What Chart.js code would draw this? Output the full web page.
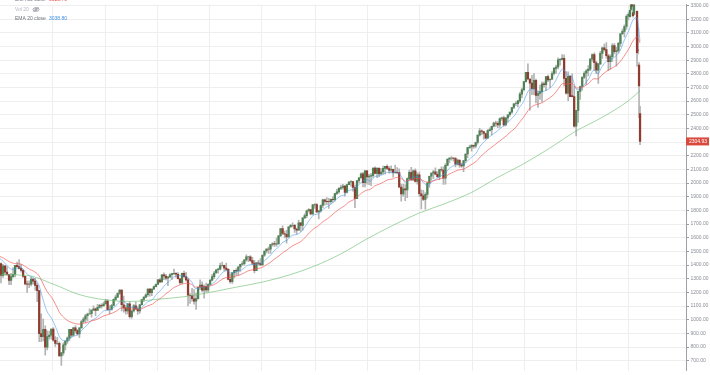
<!DOCTYPE html>
<html>
<head>
<meta charset="utf-8">
<script src="https://cdn.jsdelivr.net/npm/chart.js@4.4.1/dist/chart.umd.min.js"></script>
<style>
  html, body { margin: 0; padding: 0; background: #fff; }
  #wrap { width: 710px; height: 375px; }
</style>
</head>
<body>
<div id="wrap"><canvas id="myChart" width="710" height="375"></canvas></div>
<script>
// Weekly index, Jan 2008 - Mar 2020.
// 2008-2019 are kept as two-week candles, 2020 as single weeks.
const opens = [
  1411,1325,1395,1349,1331,1288,1316,1333,1398,1389,1376,1361,1318,1262,1261,1260,1298,1283,1252,1213,899,877,930,800,876,888,
  931,850,826,827,735,757,816,843,866,929,887,940,921,896,940,987,1005,1029,1042,1044,1071,1080,1069,1091,1106,1102,
  1115,1136,1073,1075,1104,1149,1166,1194,1217,1110,1087,1064,1117,1022,1064,1101,1079,1065,1110,1148,1165,1183,1225,1199,1225,1243,
  1258,1293,1276,1329,1320,1304,1314,1329,1338,1340,1333,1300,1271,1339,1316,1292,1179,1177,1154,1136,1155,1238,1253,1216,1244,1219,
  1258,1289,1316,1342,1366,1371,1397,1398,1378,1369,1295,1278,1343,1362,1357,1386,1406,1411,1438,1460,1461,1433,1414,1360,1416,1413,
  1402,1472,1503,1518,1516,1551,1557,1553,1555,1614,1667,1631,1626,1606,1680,1690,1691,1664,1655,1710,1690,1745,1762,1798,1806,1775,
  1841,1842,1790,1797,1836,1878,1866,1865,1864,1882,1878,1924,1936,1961,1968,1979,1931,1989,2008,2011,1968,1887,2018,2039,2068,2003,
  2089,2045,2051,2055,2110,2071,2108,2067,2081,2108,2122,2107,2094,2101,2076,2079,2077,1971,1921,1958,1951,2033,2079,2023,2090,2012,
  2061,1922,1907,1880,1918,2000,2050,2073,2082,2065,2047,2099,2096,2037,2130,2175,2183,2184,2180,2139,2168,2133,2126,2164,2213,2260,
  2264,2277,2271,2297,2351,2383,2378,2363,2329,2384,2391,2416,2439,2438,2425,2473,2477,2426,2477,2500,2519,2553,2581,2582,2602,2651,
  2683,2743,2810,2762,2732,2691,2752,2641,2656,2670,2727,2721,2779,2755,2760,2802,2840,2850,2902,2905,2914,2767,2659,2781,2640,2633,
  2417,2532,2671,2707,2776,2804,2822,2834,2907,2940,2881,2826,2873,2950,2990,2977,2932,2889,2926,3007,2962,2970,3023,3093,3110,3146,3221,
  3218,3271,3333,3248,3236,3319,3380,3257,2974,2864,2509
];
const highs = [
  1416,1405,1396,1389,1332,1340,1381,1399,1422,1441,1406,1368,1320,1283,1284,1313,1302,1303,1265,1215,1044,1005,955,919,918,934,
  943,877,871,838,761,832,845,875,930,930,945,956,929,943,996,1018,1039,1049,1080,1072,1101,1085,1113,1113,1119,1130,
  1150,1147,1104,1112,1153,1180,1197,1220,1219,1174,1105,1120,1131,1071,1113,1129,1095,1113,1148,1167,1189,1227,1228,1227,1246,1263,
  1296,1302,1331,1344,1332,1315,1338,1339,1371,1346,1346,1302,1341,1356,1347,1307,1191,1230,1220,1195,1240,1292,1277,1255,1268,1265,
  1297,1333,1354,1368,1378,1414,1422,1400,1415,1375,1335,1345,1364,1375,1391,1407,1427,1438,1475,1464,1470,1457,1434,1421,1434,1448,
  1475,1503,1520,1531,1552,1563,1573,1597,1618,1668,1687,1649,1654,1681,1699,1709,1699,1670,1730,1711,1745,1775,1802,1814,1808,1844,
  1850,1850,1800,1841,1883,1883,1894,1888,1885,1902,1925,1955,1968,1985,1991,1984,1990,2011,2019,2012,1986,2018,2041,2075,2078,2094,
  2093,2064,2072,2112,2119,2114,2114,2107,2125,2123,2134,2121,2127,2102,2132,2114,2104,1993,1993,1989,2039,2094,2116,2097,2104,2076,
  2081,1950,1947,1930,2009,2052,2076,2094,2111,2084,2103,2120,2120,2143,2176,2187,2194,2187,2188,2175,2169,2147,2167,2214,2261,2278,
  2282,2279,2301,2352,2401,2390,2381,2367,2392,2404,2418,2446,2454,2450,2477,2484,2491,2480,2500,2519,2555,2582,2597,2605,2665,2695,
  2743,2810,2873,2763,2789,2801,2762,2675,2718,2742,2742,2781,2790,2763,2816,2848,2863,2916,2911,2941,2939,2816,2815,2786,2800,2708,
  2533,2675,2710,2776,2816,2830,2861,2911,2946,2954,2892,2876,2964,2996,3018,3028,2944,2939,3021,3022,2993,3030,3097,3128,3158,3231,3248,
  3268,3330,3338,3285,3348,3386,3394,3260,3137,2882,2562
];
const lows = [
  1270,1310,1326,1324,1257,1256,1310,1313,1383,1371,1348,1310,1255,1200,1234,1247,1261,1217,1133,839,840,845,741,780,857,857,
  842,804,818,734,666,740,779,826,847,873,880,904,888,869,938,978,979,992,1039,1019,1066,1029,1068,1085,1085,1100,
  1115,1071,1045,1070,1101,1142,1162,1185,1065,1056,1040,1042,1011,1010,1056,1076,1039,1047,1107,1132,1160,1170,1173,1176,1220,1240,
  1257,1270,1275,1294,1291,1249,1308,1295,1330,1311,1297,1258,1262,1309,1282,1101,1120,1136,1114,1075,1150,1221,1206,1158,1202,1202,
  1258,1285,1300,1340,1340,1365,1391,1358,1358,1291,1267,1266,1306,1325,1325,1354,1398,1397,1428,1425,1427,1403,1343,1360,1398,1398,
  1398,1464,1489,1485,1485,1538,1536,1536,1553,1610,1622,1598,1560,1604,1676,1680,1640,1627,1655,1646,1655,1740,1747,1788,1767,1767,
  1815,1784,1737,1790,1820,1839,1842,1814,1851,1859,1868,1915,1925,1952,1955,1904,1928,1988,1978,1941,1821,1886,2001,2034,1972,1973,
  1992,1988,1981,2041,2068,2039,2045,2064,2067,2067,2099,2072,2079,2044,2071,2067,1971,1867,1903,1872,1893,2019,2019,2019,2006,1993,
  1902,1812,1872,1810,1891,1969,2022,2033,2060,2040,2025,2085,1991,1992,2126,2147,2168,2160,2119,2131,2115,2114,2084,2152,2187,2253,
  2234,2254,2258,2285,2344,2354,2322,2322,2329,2380,2353,2411,2415,2405,2407,2458,2417,2418,2446,2488,2510,2544,2566,2557,2590,2624,
  2674,2739,2756,2533,2647,2648,2586,2553,2612,2595,2702,2676,2743,2699,2758,2791,2802,2836,2864,2900,2710,2651,2604,2632,2631,2409,
  2346,2444,2612,2681,2765,2722,2785,2822,2891,2825,2801,2729,2866,2912,2965,2914,2822,2834,2891,2945,2856,2952,3000,3087,3070,3124,3195,
  3214,3264,3281,3214,3234,3316,3328,2855,2946,2479,2281
];
const closes = [
  1325,1395,1349,1331,1288,1316,1333,1398,1389,1376,1361,1318,1262,1261,1260,1298,1283,1252,1213,899,877,930,800,876,888,931,
  850,826,827,735,757,816,843,866,929,887,940,921,896,940,987,1005,1029,1042,1044,1071,1080,1069,1091,1106,1102,1115,
  1136,1073,1075,1104,1149,1166,1194,1217,1110,1087,1064,1117,1022,1064,1101,1079,1065,1110,1148,1165,1183,1225,1199,1225,1243,1258,
  1293,1276,1329,1320,1304,1314,1329,1338,1340,1333,1300,1271,1339,1316,1292,1179,1177,1154,1136,1155,1238,1253,1216,1244,1219,1258,
  1289,1316,1342,1366,1371,1397,1398,1378,1369,1295,1278,1343,1362,1357,1386,1406,1411,1438,1460,1461,1433,1414,1360,1416,1413,1402,
  1472,1503,1518,1516,1551,1557,1553,1555,1614,1667,1631,1626,1606,1680,1691,1691,1664,1655,1710,1690,1745,1762,1798,1806,1775,1841,
  1842,1790,1797,1836,1878,1866,1865,1864,1882,1878,1924,1936,1961,1968,1979,1931,1989,2008,2011,1968,1887,2018,2039,2068,2003,2089,
  2045,2051,2055,2110,2071,2108,2067,2081,2108,2122,2107,2094,2101,2076,2079,2077,1971,1921,1958,1951,2033,2079,2023,2090,2012,2061,
  1922,1907,1880,1918,2000,2050,2073,2082,2065,2047,2099,2096,2037,2130,2175,2183,2184,2180,2139,2168,2133,2126,2164,2213,2260,2264,
  2277,2271,2297,2351,2383,2378,2363,2329,2384,2391,2416,2439,2438,2425,2473,2477,2426,2477,2500,2519,2553,2581,2582,2602,2651,2683,
  2743,2810,2762,2732,2691,2752,2641,2656,2670,2727,2721,2779,2755,2760,2802,2840,2850,2902,2905,2914,2767,2659,2781,2633,2633,2417,
  2532,2671,2707,2776,2804,2822,2834,2907,2940,2881,2826,2873,2950,2990,2977,2932,2889,2926,3007,2962,2970,3023,3093,3110,3146,3221,3235,
  3265,3330,3295,3226,3328,3380,3338,2954,2972,2711,2304.93
];
const twoWeekCount = 313; // the first 313 candles span two weeks each

// moving averages, one value per month end (Dec 2007 .. Feb 2020)
const ema20Monthly = [
  1450,
  1425,1392,1367,1373,1383,1347,1319,1306,1257,1156,1065,1008,
  944,871,845,855,877,892,925,959,993,1008,1039,1066,
  1069,1081,1112,1138,1121,1090,1094,1078,1100,1129,1147,1186,
  1221,1258,1282,1311,1323,1322,1312,1279,1227,1236,1240,1246,
  1269,1303,1340,1360,1343,1350,1360,1376,1399,1404,1408,1414,
  1443,1468,1503,1536,1569,1582,1618,1623,1644,1684,1727,1769,
  1774,1804,1828,1848,1875,1905,1914,1945,1954,1976,2008,2026,
  2015,2047,2054,2065,2080,2074,2084,2045,2001,2028,2046,2045,
  2008,1981,2009,2029,2053,2069,2106,2129,2143,2137,2159,2187,
  2219,2270,2303,2331,2359,2381,2412,2433,2463,2502,2553,2595,
  2675,2689,2672,2664,2678,2692,2735,2793,2835,2792,2781,2685,
  2692,2724,2763,2827,2801,2850,2896,2907,2931,2968,3040,3120,
  3195,3210
];
const ema50Monthly = [
  1465,
  1451,1432,1415,1410,1408,1388,1369,1355,1325,1269,1210,1162,
  1109,1050,1010,988,977,968,971,979,991,998,1014,1030,
  1037,1048,1067,1086,1086,1077,1081,1076,1086,1101,1114,1137,
  1161,1187,1209,1233,1251,1262,1267,1259,1239,1241,1242,1245,
  1256,1273,1294,1310,1310,1318,1328,1341,1357,1366,1374,1382,
  1400,1418,1442,1467,1493,1511,1539,1554,1574,1603,1635,1669,
  1687,1714,1739,1762,1788,1815,1833,1860,1878,1900,1927,1948,
  1955,1979,1993,2008,2024,2030,2042,2031,2013,2023,2032,2034,
  2019,2005,2014,2022,2034,2044,2065,2082,2096,2101,2116,2135,
  2158,2191,2218,2244,2271,2295,2323,2346,2373,2405,2443,2480,
  2534,2562,2575,2586,2605,2623,2654,2693,2728,2725,2731,2696,
  2697,2711,2730,2764,2762,2790,2820,2837,2859,2887,2927,2985,
  3040,3070
];
const ema20Last = 3038.80;
const ema50Last = 3025.70;
// slow average, one value every 26 weeks, then the last bar
const ma200Half = [1330,1325,1262,1185,1146,1134,1150,1168,1200,1238,1275,1325,1392,
  1480,1590,1690,1780,1850,1930,2040,2140,2255,2380,2480,2600];
const ma200Last = 2676;

const priceTicks = [700,800,900,1000,1100,1200,1300,1400,1500,1600,1700,1800,1900,2000,
  2100,2200,2300,2400,2500,2600,2700,2800,2900,3000,3100,3200,3300];
const yearStartWeeks = [52,104,156,208,260,313,365,417,469,521,573,625];

const UP = '#4f8356';
const DOWN = '#8f3b30';
const FONT = '"Liberation Sans", Arial, sans-serif';

const lastWeek = 2 * twoWeekCount + (closes.length - twoWeekCount) - 1;
const candleX = closes.map((c, i) => i < twoWeekCount ? 2 * i + 0.5 : 2 * twoWeekCount + (i - twoWeekCount));

// week number (from 7 Jan 2008) of the month end
const weekOfMonthEnd = (k) => {
  const d = Date.UTC(2008, k, 0) - Date.UTC(2008, 0, 7);
  return Math.floor(d / (7 * 864e5));
};
const monthlyPoints = (vals, last) => {
  const pts = vals.map((v, k) => ({ x: weekOfMonthEnd(k), y: v }));
  pts.push({ x: lastWeek, y: last });
  return pts;
};
const ma200Points = ma200Half.map((v, k) => ({ x: 26 * k, y: v }));
ma200Points.push({ x: lastWeek, y: ma200Last });

const bodies = closes.map((c, i) => ({ x: candleX[i], y: [opens[i], c] }));
const wicks = closes.map((c, i) => ({ x: candleX[i], y: [lows[i], highs[i]] }));

// legend in the top left corner + last price tag on the axis
const overlayPlugin = {
  id: 'overlay',
  afterDraw(chart) {
    const c = chart.ctx;
    const area = chart.chartArea;
    const y = chart.scales.y;
    c.save();
    c.font = '5px ' + FONT;
    c.textBaseline = 'middle';

    const rows = [
      { label: 'EMA 50 close', value: ema50Last.toFixed(2), color: '#e5534b', y: 0 },
      { label: 'EMA 20 close', value: ema20Last.toFixed(2), color: '#3d8fe0', y: 19 }
    ];
    rows.forEach(r => {
      c.fillStyle = '#6f727c';
      c.fillText(r.label, 15, r.y);
      c.fillStyle = r.color;
      c.fillText(r.value, 49, r.y);
    });
    c.fillStyle = '#b4b6bd';
    c.fillText('Vol 20', 15, 9.5);
    // crossed eye icon
    c.strokeStyle = '#8c8f98';
    c.lineWidth = 0.8;
    c.beginPath();
    c.ellipse(36, 9.5, 3, 1.8, 0, 0, Math.PI * 2);
    c.stroke();
    c.beginPath();
    c.arc(36, 9.5, 0.9, 0, Math.PI * 2);
    c.stroke();
    c.beginPath();
    c.moveTo(33.5, 12);
    c.lineTo(38.5, 7);
    c.stroke();

    // last price tag
    const last = closes[closes.length - 1];
    const py = y.getPixelForValue(last);
    c.fillStyle = '#d94a3d';
    c.fillRect(area.right, py - 4, chart.width - area.right - 1, 8);
    c.fillStyle = '#ffffff';
    c.fillText(last.toFixed(2), area.right + 3, py + 0.3);
    c.restore();
  }
};

const ctx = document.getElementById('myChart').getContext('2d');
const chart = new Chart(ctx, {
  type: 'bar',
  data: {
    datasets: [
      {
        type: 'line', data: ma200Points, borderColor: 'rgba(102,187,106,0.6)', borderWidth: 1,
        pointRadius: 0, cubicInterpolationMode: 'monotone', order: 0
      },
      {
        type: 'line', data: monthlyPoints(ema50Monthly, ema50Last), borderColor: 'rgba(239,83,80,0.65)', borderWidth: 1,
        pointRadius: 0, cubicInterpolationMode: 'monotone', order: 0
      },
      {
        type: 'line', data: monthlyPoints(ema20Monthly, ema20Last), borderColor: 'rgba(66,150,236,0.55)', borderWidth: 1,
        pointRadius: 0, cubicInterpolationMode: 'monotone', order: 0
      },
      {
        data: bodies, grouped: false, barThickness: 1.6, borderWidth: 0, order: 1,
        backgroundColor: (c) => closes[c.dataIndex] >= opens[c.dataIndex] ? UP : DOWN
      },
      {
        data: wicks, grouped: false, barThickness: 1, borderWidth: 0, order: 2,
        backgroundColor: '#b3b3b3'
      }
    ]
  },
  options: {
    responsive: false,
    animation: false,
    events: [],
    layout: { padding: 0 },
    plugins: { legend: { display: false }, tooltip: { enabled: false } },
    scales: {
      x: {
        type: 'linear',
        min: -0.5,
        max: 681.7,
        offset: false,
        afterBuildTicks: (s) => { s.ticks = yearStartWeeks.map(v => ({ value: v })); },
        ticks: { display: false },
        grid: { color: '#eeeeee', drawTicks: false, offset: false },
        border: { display: false }
      },
      y: {
        position: 'right',
        min: 628.6,
        max: 3307.1,
        afterBuildTicks: (s) => { s.ticks = priceTicks.map(v => ({ value: v })); },
        afterFit: (s) => { s.width = 24; },
        ticks: {
          autoSkip: false,
          padding: 1.5,
          color: '#8a8d96',
          font: { family: FONT, size: 5 },
          callback: (v) => Number(v).toFixed(2)
        },
        grid: { color: '#eeeeee', tickLength: 3, tickColor: '#9a9ca3' },
        border: { display: true, color: '#9ea1a8' }
      }
    }
  },
  plugins: [overlayPlugin]
});
</script>
</body>
</html>
